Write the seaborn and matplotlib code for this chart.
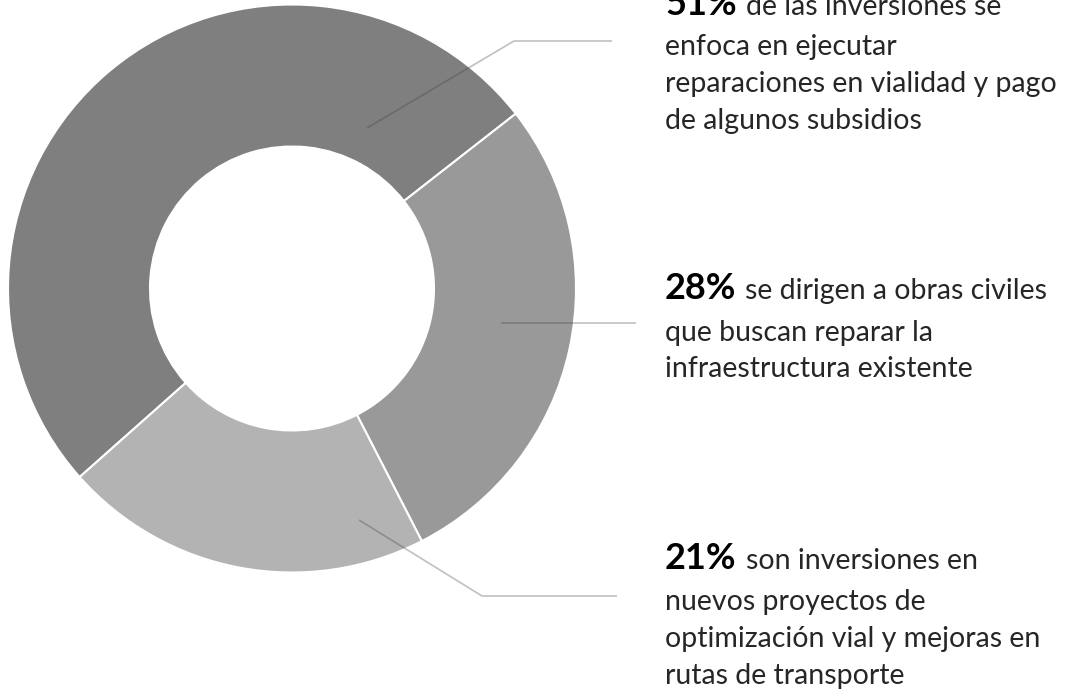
import matplotlib
matplotlib.use("Agg")
import matplotlib.pyplot as plt
import seaborn as sns
import numpy as np

# Datos del gráfico
shares = [51, 28, 21]
pct_labels = ["51%", "28%", "21%"]
first_lines = ["de las inversiones se", "se dirigen a obras civiles", "son inversiones en"]
other_lines = [
    ["enfoca en ejecutar", "reparaciones en vialidad y pago", "de algunos subsidios"],
    ["que buscan reparar la", "infraestructura existente"],
    ["nuevos proyectos de", "optimización vial y mejoras en", "rutas de transporte"],
]
colors = ["#7f7f7f", "#999999", "#b3b3b3"]

sns.set_theme(style="white")
plt.rcParams["font.family"] = ["Lato", "DejaVu Sans"]

W, H = 1073, 692
fig = plt.figure(figsize=(W / 100, H / 100), dpi=100)

# donut: centro (292, 288.5) px, radio 284 px
cx, cy, R = 292, 288.5, 284
ax = fig.add_axes([(cx - R) / W, (H - cy - R) / H, 2 * R / W, 2 * R / H])
ax.pie(shares, colors=colors, startangle=221.6, counterclock=False,
       radius=1, wedgeprops=dict(width=0.5, edgecolor="white", linewidth=1.5))
ax.set_xlim(-1, 1)
ax.set_ylim(-1, 1)
ax.set_aspect("equal")
ax.axis("off")

def px2data(px, py):
    return (px - cx) / R, (cy - py) / R

# líneas guía (en píxeles de la imagen)
leaders = [
    [(367, 128), (514, 41), (612, 41)],
    [(501, 323), (636, 323)],
    [(359, 520), (482, 596), (617, 596)],
]
for pts in leaders:
    xs, ys = zip(*[px2data(*p) for p in pts])
    ax.plot(xs, ys, color="#404040", alpha=0.33, lw=1.2, clip_on=False,
            solid_capstyle="butt")

# textos
text_x = 665
baselines = [[15, 55, 92, 129], [299, 341, 377], [569, 610, 647, 684]]
fig.canvas.draw()
renderer = fig.canvas.get_renderer()
for i in range(3):
    y0 = baselines[i][0]
    t = fig.text(text_x / W, 1 - y0 / H, pct_labels[i], fontsize=26,
                 fontweight="bold", color="black", va="baseline", ha="left")
    bb = t.get_window_extent(renderer)
    fig.text((text_x + bb.width + 9) / W, 1 - y0 / H, first_lines[i],
             fontsize=20.5, fontweight="normal", color="#262626",
             va="baseline", ha="left")
    for line, yb in zip(other_lines[i], baselines[i][1:]):
        fig.text(text_x / W, 1 - yb / H, line, fontsize=20.5,
                 fontweight="normal", color="#262626", va="baseline", ha="left")

fig.savefig("out.png", dpi=100)
